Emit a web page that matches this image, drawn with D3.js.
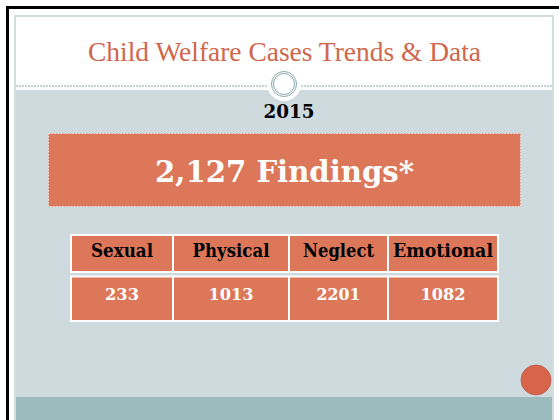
<!DOCTYPE html>
<html><head><meta charset="utf-8">
<script src="https://cdn.jsdelivr.net/npm/d3@7"></script>
<style>html,body{margin:0;padding:0;background:#fff;}svg{display:block;}</style>
</head><body>
<script>
const title = "Child Welfare Cases Trends & Data";
const year = "2015";
const headline = "2,127 Findings*";
const categories = ["Sexual", "Physical", "Neglect", "Emotional"];
const values = [233, 1013, 2201, 1082];
const colWeights = [102, 116, 99, 110];

const W = 559, H = 420;
const svg = d3.select("body").append("svg").attr("width", W).attr("height", H);

// page frame
svg.append("rect").attr("width", W).attr("height", H).attr("fill", "#fff");
svg.append("rect").attr("x", 6).attr("y", 6).attr("width", W - 6).attr("height", 3).attr("fill", "#000");
svg.append("rect").attr("x", 6).attr("y", 6).attr("width", 3).attr("height", H - 6).attr("fill", "#000");

// slide
const sx = 15, sy = 16, sw = 538;
svg.append("rect").attr("x", sx).attr("y", sy).attr("width", sw).attr("height", H - sy + 2)
  .attr("fill", "#fff").attr("stroke", "#c3d3d4").attr("stroke-width", 1.5);
svg.append("rect").attr("x", sx + 1).attr("y", 90).attr("width", sw - 2).attr("height", 308).attr("fill", "#cfdadf");
svg.append("rect").attr("x", sx + 1).attr("y", 397).attr("width", sw - 2).attr("height", 23).attr("fill", "#9cbbbc");

// dashed divider
svg.append("line").attr("x1", sx + 1).attr("x2", sx + sw - 1).attr("y1", 86).attr("y2", 86)
  .attr("stroke", "#8aa7a8").attr("stroke-width", 1).attr("stroke-dasharray", "2,1");

// ornament circle
svg.append("circle").attr("cx", 284).attr("cy", 84).attr("r", 17).attr("fill", "#fff");
svg.append("circle").attr("cx", 284).attr("cy", 84).attr("r", 12.5).attr("fill", "#fff").attr("stroke", "#8aa7a8").attr("stroke-width", 1);
svg.append("circle").attr("cx", 284).attr("cy", 84).attr("r", 10.5).attr("fill", "none").attr("stroke", "#8aa7a8").attr("stroke-width", 1);

// title
svg.append("text").attr("x", 284.5).attr("y", 61).attr("text-anchor", "middle")
  .attr("font-family", "Liberation Serif, DejaVu Serif, serif").attr("font-size", 27.5)
  .attr("fill", "#d0674c").attr("textLength", 393).attr("lengthAdjust", "spacingAndGlyphs").text(title);

// year
svg.append("text").attr("x", 289).attr("y", 118).attr("text-anchor", "middle")
  .attr("font-family", "DejaVu Serif, serif").attr("font-weight", "bold").attr("font-size", 19)
  .attr("fill", "#000").attr("textLength", 51).attr("lengthAdjust", "spacingAndGlyphs").text(year);

// headline box
svg.append("rect").attr("x", 48.5).attr("y", 133.5).attr("width", 472).attr("height", 73)
  .attr("fill", "#dc775a").attr("stroke", "#f6ddd5").attr("stroke-width", 1).attr("stroke-dasharray", "1.5,1.5");
svg.append("text").attr("x", 284.5).attr("y", 182).attr("text-anchor", "middle")
  .attr("font-family", "DejaVu Serif, serif").attr("font-weight", "bold").attr("font-size", 29)
  .attr("fill", "#fff").attr("textLength", 259).attr("lengthAdjust", "spacingAndGlyphs").text(headline);

// table
const cum = [0];
colWeights.forEach(w => cum.push(cum[cum.length - 1] + w));
const x = d3.scaleLinear().domain([0, cum[cum.length - 1]]).range([71, 498]);
const rows = [
  {y0: 235, y1: 272, texts: categories, color: "#000", size: 18, base: 257},
  {y0: 276.5, y1: 321, texts: values.map(String), color: "#fff", size: 16.5, base: 300}
];
const headW = [62, 77, 71, 100];
const valW = [34, 45, 44, 45];
rows.forEach((r, ri) => {
  const g = svg.append("g");
  g.selectAll("rect").data(r.texts).join("rect")
    .attr("x", (d, i) => x(cum[i])).attr("y", r.y0)
    .attr("width", (d, i) => x(cum[i + 1]) - x(cum[i])).attr("height", r.y1 - r.y0)
    .attr("fill", "#dc775a").attr("stroke", "#fff").attr("stroke-width", 2);
  g.selectAll("text").data(r.texts).join("text")
    .attr("x", (d, i) => (x(cum[i]) + x(cum[i + 1])) / 2).attr("y", r.base)
    .attr("text-anchor", "middle").attr("font-family", "DejaVu Serif, serif").attr("font-weight", "bold")
    .attr("font-size", r.size).attr("fill", r.color)
    .attr("textLength", (d, i) => (ri === 0 ? headW : valW)[i]).attr("lengthAdjust", "spacingAndGlyphs")
    .text(d => d);
});

// corner dot
svg.append("circle").attr("cx", 536).attr("cy", 380).attr("r", 15)
  .attr("fill", "#d8644a").attr("stroke", "#b9564a").attr("stroke-width", 0.8);
</script>
</body></html>
